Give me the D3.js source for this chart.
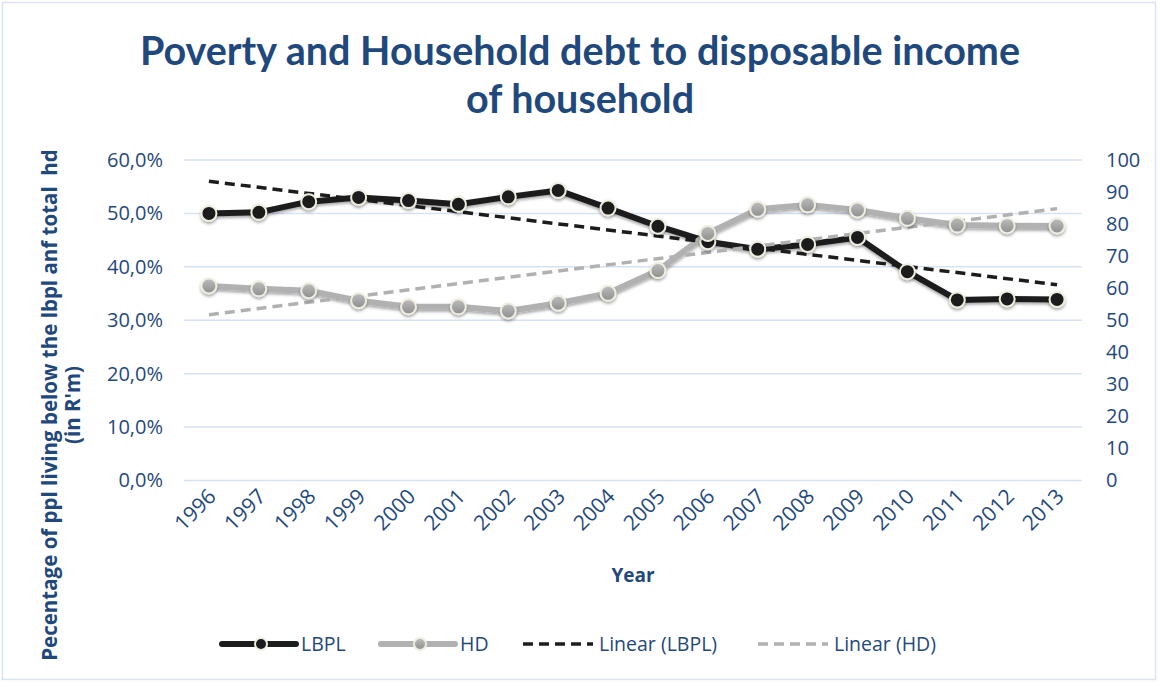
<!DOCTYPE html>
<html>
<head>
<meta charset="utf-8">
<script src="https://cdn.jsdelivr.net/npm/d3@7"></script>
<style>
    body { margin: 0; background: #fff; }
    svg text { font-family: "Open Sans", Lato, sans-serif; }
</style>
</head>
<body>
<div id="chart"></div>
<script>
;(function () {
    // data
    const years = ["1996", "1997", "1998", "1999", "2000", "2001", "2002", "2003", "2004",
        "2005", "2006", "2007", "2008", "2009", "2010", "2011", "2012", "2013"]
    const lbpl = [0.500, 0.502, 0.522, 0.530, 0.524, 0.517, 0.531, 0.543, 0.510,
        0.476, 0.447, 0.433, 0.442, 0.455, 0.391, 0.338, 0.340, 0.339]
    const hd = [60.7, 59.8, 59.2, 56.1, 54.2, 54.2, 52.9, 55.3, 58.4,
        65.5, 77.1, 84.6, 86.0, 84.4, 81.8, 79.7, 79.5, 79.4]
    const leftTicks = [0, 0.1, 0.2, 0.3, 0.4, 0.5, 0.6]
    const rightTicks = [0, 10, 20, 30, 40, 50, 60, 70, 80, 90, 100]
    const legendItems = ["LBPL", "HD", "Linear (LBPL)", "Linear (HD)"]

    const width = 1158
    const height = 682
    const margin = { top: 160, right: 76, bottom: 201.5, left: 184 }
    const chartWidth = width - margin.left - margin.right
    const chartHeight = height - margin.top - margin.bottom

    const textColor = "#1f497d"
    const darkColor = "#1c1c1c"
    const greyColor = "#b1b1b1"

    const svg = d3.select("#chart")
        .append("svg")
        .attr("width", width)
        .attr("height", height)

    const defs = svg.append("defs")
    const shadow = defs.append("filter").attr("id", "shadow")
        .attr("x", "-50%").attr("y", "-50%").attr("width", "200%").attr("height", "200%")
    shadow.append("feDropShadow")
        .attr("dx", 0).attr("dy", 2).attr("stdDeviation", 1.6)
        .attr("flood-color", "#000").attr("flood-opacity", 0.35)

    const greyGrad = defs.append("linearGradient").attr("id", "greyGrad")
        .attr("x1", 0).attr("y1", 0).attr("x2", 0).attr("y2", 1)
    greyGrad.append("stop").attr("offset", "0%").attr("stop-color", "#bdbdbd")
    greyGrad.append("stop").attr("offset", "100%").attr("stop-color", "#8e8e8e")

    // outer border
    svg.append("rect")
        .attr("x", 2.5).attr("y", 2.5)
        .attr("width", width - 5).attr("height", height - 5)
        .attr("fill", "none")
        .attr("stroke", "#d9e4f2")
        .attr("stroke-width", 1.5)

    // title
    const title = svg.append("text")
        .attr("x", 580)
        .attr("text-anchor", "middle")
        .attr("fill", textColor)
        .attr("font-weight", "bold")
        .attr("font-size", 39.5)
        .style("font-family", "Lato, sans-serif")
    title.append("tspan").attr("x", 580).attr("y", 65)
        .text("Poverty and Household debt to disposable income")
    title.append("tspan").attr("x", 580).attr("y", 113)
        .text("of household")

    const g = svg.append("g")
        .attr("transform", `translate(${margin.left},${margin.top})`)

    const xPositionScale = d3.scaleBand().domain(years).range([0, chartWidth])
    const yLeftScale = d3.scaleLinear().domain([0, 0.6]).range([chartHeight, 0])
    const yRightScale = d3.scaleLinear().domain([0, 100]).range([chartHeight, 0])
    const xMid = d => xPositionScale(d) + xPositionScale.bandwidth() / 2

    // gridlines
    g.append("g")
        .selectAll("line")
        .data(leftTicks)
        .join("line")
        .attr("x1", 0)
        .attr("x2", chartWidth)
        .attr("y1", d => yLeftScale(d))
        .attr("y2", d => yLeftScale(d))
        .attr("stroke", "#d6e2f2")
        .attr("stroke-width", 1.5)

    // left axis
    const leftAxis = g.append("g")
        .attr("class", "axis y-axis")
        .attr("transform", "translate(-18,0)")
        .call(d3.axisLeft(yLeftScale)
            .tickValues(leftTicks)
            .tickSize(0)
            .tickFormat(d => d3.format(".1%")(d).replace(".", ",")))
    leftAxis.select(".domain").remove()
    leftAxis.selectAll("text")
        .attr("fill", textColor)
        .attr("font-size", 20)
        .attr("font-family", "'Open Sans', sans-serif")

    // right axis
    const rightAxis = g.append("g")
        .attr("class", "axis y-axis-right")
        .attr("transform", `translate(${chartWidth + 21},0)`)
        .call(d3.axisRight(yRightScale).tickValues(rightTicks).tickSize(0))
    rightAxis.select(".domain").remove()
    rightAxis.selectAll("text")
        .attr("fill", textColor)
        .attr("font-size", 20)
        .attr("font-family", "'Open Sans', sans-serif")

    // x labels, rotated
    g.append("g")
        .selectAll("text")
        .data(years)
        .join("text")
        .attr("transform", d => `translate(${xMid(d) + 3},${chartHeight + 12}) rotate(-45)`)
        .attr("text-anchor", "end")
        .attr("dy", "0.35em")
        .attr("fill", textColor)
        .attr("font-size", 21)
        .text(d => d)

    // axis titles
    svg.append("text")
        .attr("x", 633)
        .attr("y", 582)
        .attr("text-anchor", "middle")
        .attr("fill", textColor)
        .attr("font-weight", "bold")
        .attr("font-size", 19)
        .text("Year")

    const yTitle = svg.append("text")
        .attr("transform", "translate(57,405) rotate(-90)")
        .attr("text-anchor", "middle")
        .attr("fill", textColor)
        .attr("font-weight", "bold")
        .attr("font-size", 20.5)
        .style("white-space", "pre")
    yTitle.append("tspan").attr("x", 0).attr("y", 0)
        .text("Pecentage of ppl living below the lbpl anf total  hd")
    yTitle.append("tspan").attr("x", 0).attr("y", 23)
        .text("(in R'm)")

    // linear trendlines (least squares, like the spreadsheet does)
    function linearFit(values) {
        const n = values.length
        const xs = d3.range(n)
        const mx = d3.mean(xs)
        const my = d3.mean(values)
        const slope = d3.sum(xs, i => (i - mx) * (values[i] - my)) / d3.sum(xs, i => (i - mx) ** 2)
        return [my - slope * mx, my + slope * (n - 1 - mx)]
    }
    const lbplFit = linearFit(lbpl)
    const hdFit = linearFit(hd)

    const lbplLine = d3.line().x((d, i) => xMid(years[i])).y(d => yLeftScale(d))
    const hdLine = d3.line().x((d, i) => xMid(years[i])).y(d => yRightScale(d))

    g.append("path")
        .datum(lbpl)
        .attr("fill", "none")
        .attr("stroke", darkColor)
        .attr("stroke-width", 6)
        .attr("stroke-linejoin", "round")
        .attr("filter", "url(#shadow)")
        .attr("d", lbplLine)

    g.append("path")
        .datum(hd)
        .attr("fill", "none")
        .attr("stroke", greyColor)
        .attr("stroke-width", 6)
        .attr("stroke-linejoin", "round")
        .attr("filter", "url(#shadow)")
        .attr("d", hdLine)

    g.append("line")
        .attr("x1", xMid(years[0])).attr("x2", xMid(years[years.length - 1]))
        .attr("y1", yLeftScale(lbplFit[0])).attr("y2", yLeftScale(lbplFit[1]))
        .attr("stroke", darkColor)
        .attr("stroke-width", 3.5)
        .attr("stroke-dasharray", "10,6")

    g.append("line")
        .attr("x1", xMid(years[0])).attr("x2", xMid(years[years.length - 1]))
        .attr("y1", yRightScale(hdFit[0])).attr("y2", yRightScale(hdFit[1]))
        .attr("stroke", greyColor)
        .attr("stroke-width", 3.5)
        .attr("stroke-dasharray", "10,6")

    g.append("g")
        .selectAll("circle")
        .data(lbpl)
        .join("circle")
        .attr("cx", (d, i) => xMid(years[i]))
        .attr("cy", d => yLeftScale(d))
        .attr("r", 7.5)
        .attr("fill", darkColor)
        .attr("stroke", "#efeddf")
        .attr("stroke-width", 2)
        .attr("filter", "url(#shadow)")

    g.append("g")
        .selectAll("circle")
        .data(hd)
        .join("circle")
        .attr("cx", (d, i) => xMid(years[i]))
        .attr("cy", d => yRightScale(d))
        .attr("r", 7.5)
        .attr("fill", "url(#greyGrad)")
        .attr("stroke", "#efeddf")
        .attr("stroke-width", 2)
        .attr("filter", "url(#shadow)")

    // legend
    const legendX = [222, 381, 523, 758]
    const legendY = 644
    const legend = svg.append("g")
        .selectAll("g")
        .data(legendItems)
        .join("g")
        .attr("transform", (d, i) => `translate(${legendX[i]},${legendY})`)

    legend.each(function (d, i) {
        const item = d3.select(this)
        const color = i % 2 === 0 ? darkColor : greyColor
        if (i < 2) {
            item.append("line")
                .attr("x1", 0).attr("x2", 74)
                .attr("stroke", color)
                .attr("stroke-width", 6)
                .attr("stroke-linecap", "round")
            item.append("circle")
                .attr("cx", 39).attr("r", 6)
                .attr("fill", i === 0 ? darkColor : "url(#greyGrad)")
                .attr("stroke", "#efeddf")
                .attr("stroke-width", 2)
        } else {
            item.append("line")
                .attr("x1", 0).attr("x2", 70)
                .attr("stroke", color)
                .attr("stroke-width", 3.5)
                .attr("stroke-dasharray", "10,6")
        }
        item.append("text")
            .attr("x", i < 2 ? 79 : 76)
            .attr("dy", "0.35em")
            .attr("fill", textColor)
            .attr("font-size", 19.5)
            .text(d)
    })
})()
</script>
</body>
</html>
